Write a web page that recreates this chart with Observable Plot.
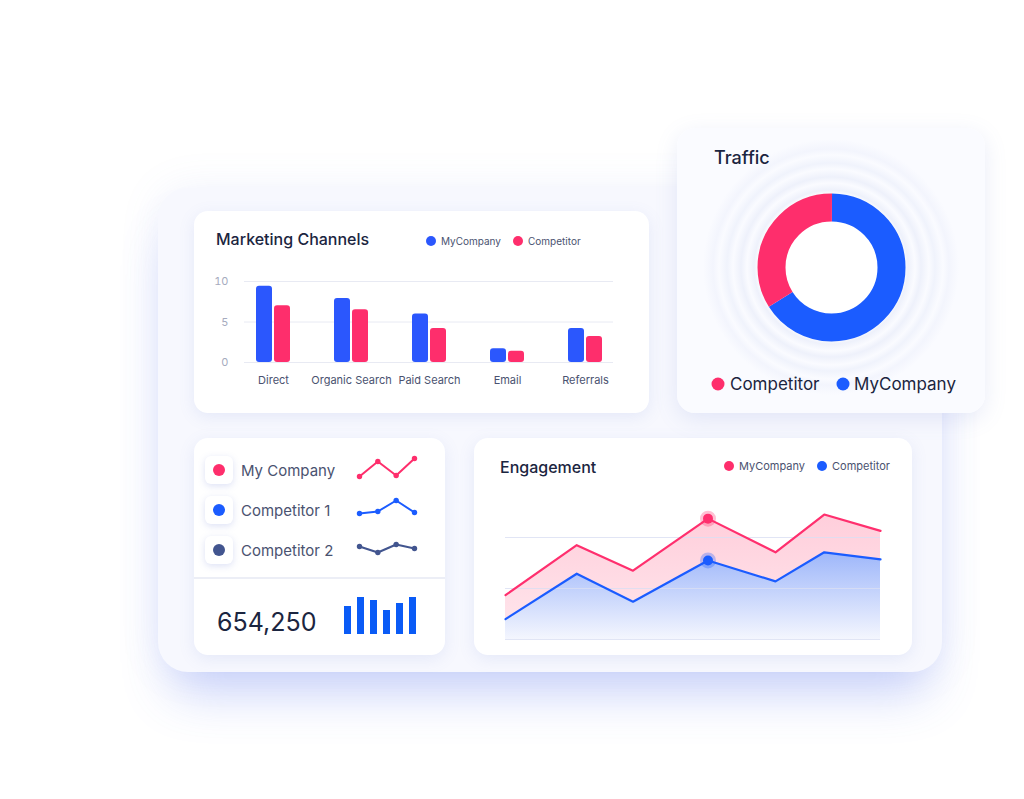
<!DOCTYPE html>
<html><head><meta charset="utf-8">
<script src="https://cdn.jsdelivr.net/npm/d3@7"></script>
<script src="https://cdn.jsdelivr.net/npm/@observablehq/plot@0.6"></script>
<style>
body{margin:0;width:1024px;height:799px;background:#fff;position:relative;overflow:hidden;font-family:Inter,"DejaVu Sans",sans-serif;color:#1b2540}
.card{position:absolute;background:#fff;border-radius:14px;box-shadow:0 4px 16px rgba(110,130,210,0.13)}
.t{position:absolute;transform:translateY(-50%);line-height:1;white-space:nowrap}
.dot{position:absolute;border-radius:50%;transform:translate(-50%,-50%)}
.plot{position:absolute}
.plot svg{overflow:visible}
.icon{position:absolute;width:28px;height:28px;border-radius:6px;background:#fff;box-shadow:0 2px 7px rgba(100,120,210,0.22)}
</style></head><body>
<div id="bg" style="position:absolute;left:158px;top:188px;width:784px;height:484px;border-radius:30px;background:#f7f8fe;box-shadow:0 34px 50px -14px rgba(80,110,240,0.30),0 0 40px rgba(120,140,230,0.10)"></div>
<div class="card" style="left:194px;top:211px;width:455px;height:202px"></div>
<div class="card" style="left:677px;top:128px;width:308px;height:285px;border-radius:18px;background:radial-gradient(circle at 154px 139px,#ffffff 0 72px,#eef1fb 77px,#fafbff 84px,#eef1fb 90px,#fafbff 98px,#f0f3fc 104px,#fafbff 112px,#f3f5fd 118px,#fafbff 128px);box-shadow:0 6px 22px rgba(110,130,210,0.15)"></div>
<div class="card" style="left:194px;top:438px;width:251px;height:217px"></div>
<div class="card" style="left:474px;top:438px;width:438px;height:217px"></div>
<div style="position:absolute;left:194px;top:577px;width:251px;height:2px;background:#eceef6"></div>
<div id="texts"></div>
<div id="plots"></div>
<script>
// ---------- data ----------
const channels = ["Direct", "Organic Search", "Paid Search", "Email", "Referrals"];
const myCompanyChannel = [9.4, 7.9, 6.0, 1.7, 4.2];
const competitorChannel = [7.0, 6.5, 4.2, 1.4, 3.2];
const channelTicks = [0, 5, 10];

const trafficLabels = ["MyCompany", "Competitor"];
const trafficValues = [66, 34];

const sparkNames = ["My Company", "Competitor 1", "Competitor 2"];
const sparkMy = [6, 21, 7, 24];
const sparkComp1 = [9, 11, 22, 10];
const sparkComp2 = [16, 10, 18, 14];

const miniBars = [28, 37, 34, 24, 31, 37];
const totalVisits = "654,250";

const engageX = [0, 19, 34, 54, 72, 85, 100];
const engageMy = [8.7, 18.5, 13.5, 23.7, 17.1, 24.5, 21.3];
const engageComp = [4.0, 12.9, 7.4, 15.5, 11.4, 17.1, 15.7];
const engageHighlight = 3;
const engageGrid = [0, 10, 20];

// ---------- colors ----------
const BLUE = "#2b57fd", PINK = "#fe2e6c", BLUE2 = "#1b5cff", NAVY = "#42558f", BARBLUE = "#0a5bf6";
const FONT = "Inter, 'DejaVu Sans', sans-serif";

// ---------- text helpers ----------
const texts = document.getElementById("texts");
function txt(s, x, y, size, color, weight) {
  const d = document.createElement("div");
  d.className = "t"; d.textContent = s;
  d.style.left = x + "px"; d.style.top = y + "px";
  d.style.fontSize = size + "px"; d.style.color = color; d.style.fontWeight = weight || 400;
  texts.appendChild(d);
}
function dot(x, y, d, color) {
  const e = document.createElement("div");
  e.className = "dot"; e.style.left = x + "px"; e.style.top = y + "px";
  e.style.width = d + "px"; e.style.height = d + "px"; e.style.background = color;
  texts.appendChild(e);
}
function icon(y) {
  const e = document.createElement("div");
  e.className = "icon"; e.style.left = "205px"; e.style.top = (y - 14) + "px";
  texts.appendChild(e);
}
const plots = document.getElementById("plots");
function place(el, x, y) {
  const w = document.createElement("div");
  w.className = "plot"; w.style.left = x + "px"; w.style.top = y + "px";
  w.appendChild(el); plots.appendChild(w);
}

// Marketing card texts
txt("Marketing Channels", 216, 239, 16, "#1b2540", 500);
dot(431, 241, 10, BLUE); txt(trafficLabels[0], 441, 241, 10, "#4a5270");
dot(518, 241, 10, PINK); txt(trafficLabels[1], 528, 241, 10, "#4a5270");

// Traffic texts
txt("Traffic", 714, 158, 18, "#1b2540", 500);
dot(718, 384, 13, PINK); txt(trafficLabels[1], 730, 384, 17, "#1b2540");
dot(843, 384, 13, BLUE2); txt(trafficLabels[0], 854, 384, 17, "#1b2540");

// Left card
const sparkColors = [PINK, BLUE2, NAVY];
const rowY = [470, 510, 550];
sparkNames.forEach((n, i) => {
  icon(rowY[i]);
  dot(219, rowY[i], 12, sparkColors[i]);
  txt(n, 241, rowY[i], 15, "#4a5270");
});
txt(totalVisits, 217, 622, 25, "#1b2540", 400);

// Engagement texts
txt("Engagement", 500, 467, 16, "#1b2540", 500);
dot(729, 466, 10, PINK); txt("MyCompany", 739, 466, 11, "#4a5270");
dot(822, 466, 10, BLUE2); txt("Competitor", 832, 466, 11, "#4a5270");

// ---------- Marketing bar chart ----------
const mkRows = channels.flatMap((c, i) => [
  {channel: c, series: "MyCompany", value: myCompanyChannel[i]},
  {channel: c, series: "Competitor", value: competitorChannel[i]}
]);
const mk = Plot.plot({
  width: 440, height: 121, marginLeft: 44, marginRight: 27, marginTop: 10, marginBottom: 30,
  style: {fontFamily: FONT, fontSize: "11px", background: "transparent", overflow: "visible"},
  x: {domain: channels, range: [32.75, 425.25], paddingInner: 0.796, paddingOuter: 0.398, label: null},
  y: {domain: [0, 10], label: null},
  marks: [
    Plot.ruleY(channelTicks, {stroke: "#e8eaf3", strokeWidth: 1}),
    Plot.barY(mkRows.filter(d => d.series === "MyCompany"), {x: "channel", y: "value", fill: BLUE, dx: -9, rx: 3}),
    Plot.barY(mkRows.filter(d => d.series === "Competitor"), {x: "channel", y: "value", fill: PINK, dx: 9, rx: 3}),
    Plot.axisY({ticks: channelTicks, tickSize: 0, tickPadding: 16, color: "#a6abbe", label: null}),
    Plot.axisX({tickSize: 0, tickPadding: 14, color: "#4a5270", label: null})
  ]
});
place(mk, 200, 271);

// ---------- Traffic donut ----------
const C = 2 * Math.PI * 60;
const total = d3.sum(trafficValues);
let start = 0;
const donutMarks = trafficLabels.map((lab, i) => {
  const frac = trafficValues[i] / total;
  const m = Plot.dot([{x: 0, y: 0}], {
    x: "x", y: "y", r: 60, fill: "none", stroke: i === 0 ? BLUE2 : PINK, strokeWidth: 28,
    strokeDasharray: `${frac * C} ${C - frac * C}`,
    strokeDashoffset: C / 4 - start * C
  });
  start += frac;
  return m;
});
const donut = Plot.plot({
  width: 160, height: 160, margin: 0,
  x: {domain: [-1, 1], axis: null}, y: {domain: [-1, 1], axis: null},
  style: {background: "transparent"},
  marks: donutMarks
});
place(donut, 751, 187);

// ---------- Sparklines ----------
[sparkMy, sparkComp1, sparkComp2].forEach((vals, i) => {
  const p = Plot.plot({
    width: 67, height: 34, marginLeft: 6, marginRight: 6, marginTop: 5, marginBottom: 5,
    x: {domain: [0, 3], axis: null}, y: {domain: [0, 24], axis: null},
    style: {background: "transparent", overflow: "visible"},
    marks: [
      Plot.lineY(vals, {stroke: sparkColors[i], strokeWidth: 2}),
      Plot.dot(vals, {x: (d, j) => j, y: d => d, r: 2.7, fill: sparkColors[i]})
    ]
  });
  place(p, 353, rowY[i] - 17);
});

// ---------- Mini bars ----------
const mini = Plot.plot({
  width: 80, height: 40, margin: 0,
  x: {domain: d3.range(miniBars.length), axis: null, paddingInner: 0.5, paddingOuter: 0.25},
  y: {domain: [0, 40], axis: null},
  style: {background: "transparent"},
  marks: [Plot.barY(miniBars, {x: (d, i) => i, y: d => d, fill: BARBLUE})]
});
place(mini, 340, 594);

// ---------- Engagement ----------
const engRows = engageX.map((x, i) => ({x, my: engageMy[i], comp: engageComp[i]}));
const defsMark = () => {
  const g = document.createElementNS("http://www.w3.org/2000/svg", "g");
  g.innerHTML = `<defs>
    <linearGradient id="engBlue" x1="0" y1="0" x2="0" y2="1">
      <stop offset="0" stop-color="#9db6fa"/><stop offset="1" stop-color="#f4f6fe"/>
    </linearGradient>
    <linearGradient id="engPink" x1="0" y1="0" x2="0" y2="1">
      <stop offset="0" stop-color="#ffcedb"/><stop offset="1" stop-color="#ffe3ea"/>
    </linearGradient></defs>`;
  return g;
};
const eng = Plot.plot({
  width: 395, height: 159, marginLeft: 10, marginRight: 10, marginTop: 0, marginBottom: 6,
  x: {domain: [0, 100], axis: null}, y: {domain: [0, 30], axis: null},
  style: {background: "transparent", overflow: "visible"},
  marks: [
    defsMark,
    Plot.areaY(engRows, {x: "x", y1: "comp", y2: "my", fill: "url(#engPink)"}),
    Plot.areaY(engRows, {x: "x", y: "comp", fill: "url(#engBlue)"}),
    Plot.ruleY(engageGrid, {stroke: "#d9def2", strokeOpacity: 0.8}),
    Plot.line(engRows, {x: "x", y: "my", stroke: "#ff2f6e", strokeWidth: 2.2}),
    Plot.line(engRows, {x: "x", y: "comp", stroke: BLUE2, strokeWidth: 2.2}),
    Plot.dot([engRows[engageHighlight]], {x: "x", y: "my", r: 8, fill: "#ff2f6e", fillOpacity: 0.3}),
    Plot.dot([engRows[engageHighlight]], {x: "x", y: "comp", r: 8, fill: BLUE2, fillOpacity: 0.3}),
    Plot.dot([engRows[engageHighlight]], {x: "x", y: "my", r: 5, fill: "#ff2f6e"}),
    Plot.dot([engRows[engageHighlight]], {x: "x", y: "comp", r: 5, fill: BLUE2})
  ]
});
place(eng, 495, 486);
</script>
</body></html>
